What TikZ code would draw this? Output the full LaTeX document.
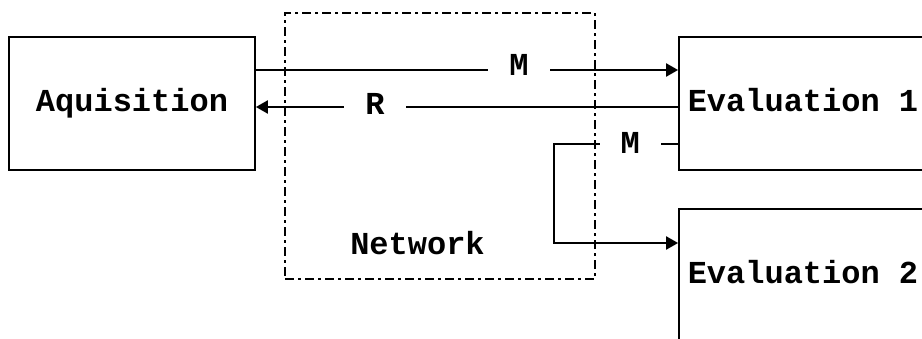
\documentclass[tikz,border=0pt]{standalone}
\usepackage{fontspec}
\setmonofont{Liberation Mono}
\usetikzlibrary{arrows.meta}
\begin{document}
\begin{tikzpicture}[x=1pt,y=-1pt,
  font=\ttfamily\bfseries\fontsize{32}{36}\selectfont,
  block/.style={draw,line width=1.8pt,minimum height=133pt,inner sep=0pt,
    text height=22pt,text depth=7pt},
  netbox/.style={draw,line width=2pt,dash pattern=on 9pt off 4pt on 3pt off 4pt,
    minimum width=310pt,minimum height=266pt,inner sep=0pt},
  conn/.style={line width=2.2pt},
  arr/.style={conn,-{Triangle[length=12pt,width=13pt]}},
  lbl/.style={fill=white,inner xsep=21pt,inner ysep=1pt,text depth=0pt}]
  \useasboundingbox (0,0) rectangle (922,338);

  % network boundary and its caption
  \node[netbox] (net) at (440,146) {};
  \node (netlbl) at (417.5,243.5) {Network};

  % processing stages
  \node[block,minimum width=246pt] (aq) at (132,103.5) {Aquisition};
  \node[block,minimum width=248pt] (ev1) at (803,103.5) {Evaluation 1};
  \node[block,minimum width=248pt] (ev2) at (803,275.5) {Evaluation 2};

  % message from acquisition to first evaluation
  \draw[arr] ([yshift=33.5pt]aq.east) --
    node[lbl,pos=0.623,yshift=5pt] {M} ([yshift=33.5pt]ev1.west);
  % result back to acquisition
  \draw[arr] ([yshift=-3.5pt]ev1.west) --
    node[lbl,pos=0.718,yshift=3pt] {R} ([yshift=-3.5pt]aq.east);
  % message forwarded to second evaluation
  \draw[arr] ([yshift=-40.5pt]ev1.west) --
    node[lbl,pos=0.387,yshift=1.5pt] {M} ++(-124,0) |- ([yshift=32.5pt]ev2.west);
\end{tikzpicture}
\end{document}
